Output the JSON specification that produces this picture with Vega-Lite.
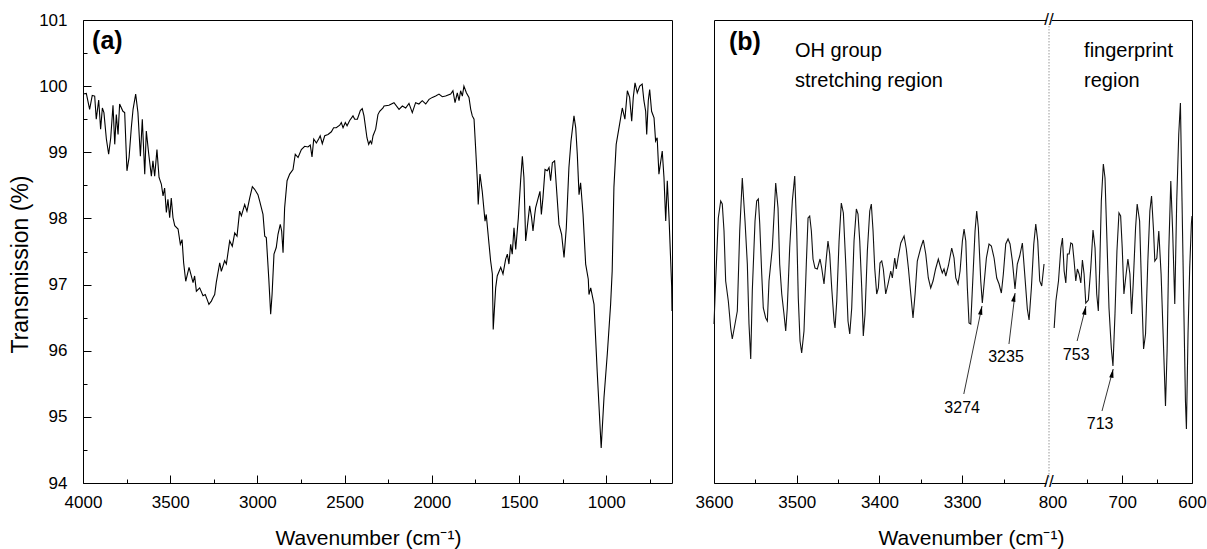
{
  "$schema": "https://vega.github.io/schema/vega-lite/v6.json",
  "autosize": {"type": "pad"},
  "padding": {"left": 8, "top": 10, "right": 5, "bottom": 2},
  "background": "white",
  "spacing": 42,
  "bounds": "flush",
  "config": {
    "font": "Liberation Sans",
    "view": {"stroke": "#000", "strokeWidth": 1},
    "axis": {"labelFont": "Liberation Sans", "titleFont": "Liberation Sans", "labelColor": "#000", "titleColor": "#000", "tickColor": "#000", "domain": false, "grid": false, "labelFontSize": 17, "titleFontSize": 21, "titleFontWeight": "normal", "labelOverlap": false, "labelFlush": false, "format": "d"}
  },
  "datasets": {
    "a": [
      {"w":4000,"t":99.88},{"w":3981,"t":99.89},{"w":3962,"t":99.65},{"w":3947,"t":99.86},{"w":3933,"t":99.85},{"w":3924,"t":99.5},{"w":3910,"t":99.79},{"w":3899,"t":99.35},{"w":3889,"t":99.67},{"w":3880,"t":99.6},{"w":3866,"t":99.2},{"w":3853,"t":98.97},{"w":3841,"t":99.22},{"w":3828,"t":99.71},{"w":3818,"t":99.12},{"w":3809,"t":99.57},{"w":3799,"t":99.27},{"w":3790,"t":99.73},{"w":3771,"t":99.62},{"w":3761,"t":99.6},{"w":3748,"t":98.72},{"w":3736,"t":98.92},{"w":3723,"t":99.37},{"w":3713,"t":99.65},{"w":3698,"t":99.88},{"w":3685,"t":99.6},{"w":3671,"t":98.94},{"w":3660,"t":99.5},{"w":3646,"t":98.67},{"w":3637,"t":99.32},{"w":3623,"t":98.97},{"w":3608,"t":98.64},{"w":3599,"t":98.87},{"w":3589,"t":98.64},{"w":3576,"t":99.04},{"w":3564,"t":98.62},{"w":3551,"t":98.52},{"w":3541,"t":98.34},{"w":3532,"t":98.46},{"w":3522,"t":98.09},{"w":3513,"t":98.29},{"w":3503,"t":98.01},{"w":3494,"t":98.31},{"w":3484,"t":98.01},{"w":3474,"t":97.89},{"w":3455,"t":97.84},{"w":3442,"t":97.61},{"w":3432,"t":97.68},{"w":3423,"t":97.33},{"w":3411,"t":97.05},{"w":3392,"t":97.26},{"w":3379,"t":97.13},{"w":3369,"t":97.03},{"w":3360,"t":97.13},{"w":3350,"t":96.9},{"w":3331,"t":96.95},{"w":3312,"t":96.83},{"w":3299,"t":96.85},{"w":3289,"t":96.78},{"w":3278,"t":96.7},{"w":3264,"t":96.75},{"w":3255,"t":96.8},{"w":3245,"t":96.85},{"w":3236,"t":97.03},{"w":3216,"t":97.33},{"w":3207,"t":97.2},{"w":3188,"t":97.36},{"w":3178,"t":97.31},{"w":3159,"t":97.66},{"w":3144,"t":97.58},{"w":3130,"t":97.78},{"w":3117,"t":97.73},{"w":3102,"t":98.11},{"w":3092,"t":98.04},{"w":3073,"t":98.21},{"w":3060,"t":98.11},{"w":3044,"t":98.31},{"w":3029,"t":98.48},{"w":3016,"t":98.44},{"w":2997,"t":98.36},{"w":2987,"t":98.26},{"w":2968,"t":98.06},{"w":2958,"t":97.73},{"w":2949,"t":97.71},{"w":2935,"t":97.1},{"w":2924,"t":96.55},{"w":2916,"t":96.85},{"w":2905,"t":97.46},{"w":2892,"t":97.56},{"w":2882,"t":97.76},{"w":2869,"t":97.91},{"w":2861,"t":97.81},{"w":2853,"t":97.48},{"w":2844,"t":98.16},{"w":2830,"t":98.57},{"w":2815,"t":98.67},{"w":2796,"t":98.74},{"w":2783,"t":98.97},{"w":2767,"t":98.92},{"w":2748,"t":99.04},{"w":2729,"t":99.09},{"w":2710,"t":99.08},{"w":2697,"t":99.11},{"w":2687,"t":98.93},{"w":2677,"t":99.2},{"w":2662,"t":99.14},{"w":2649,"t":99.2},{"w":2640,"t":99.25},{"w":2628,"t":99.13},{"w":2614,"t":99.25},{"w":2595,"t":99.27},{"w":2576,"t":99.31},{"w":2563,"t":99.37},{"w":2548,"t":99.37},{"w":2528,"t":99.41},{"w":2519,"t":99.45},{"w":2509,"t":99.37},{"w":2496,"t":99.45},{"w":2486,"t":99.4},{"w":2471,"t":99.48},{"w":2452,"t":99.55},{"w":2442,"t":99.5},{"w":2427,"t":99.5},{"w":2410,"t":99.63},{"w":2399,"t":99.66},{"w":2389,"t":99.55},{"w":2372,"t":99.22},{"w":2362,"t":99.12},{"w":2353,"t":99.17},{"w":2345,"t":99.13},{"w":2337,"t":99.25},{"w":2322,"t":99.35},{"w":2309,"t":99.57},{"w":2299,"t":99.62},{"w":2280,"t":99.67},{"w":2274,"t":99.7},{"w":2246,"t":99.71},{"w":2217,"t":99.75},{"w":2188,"t":99.65},{"w":2169,"t":99.7},{"w":2150,"t":99.67},{"w":2131,"t":99.74},{"w":2112,"t":99.6},{"w":2093,"t":99.75},{"w":2074,"t":99.73},{"w":2055,"t":99.78},{"w":2035,"t":99.73},{"w":2016,"t":99.8},{"w":1997,"t":99.83},{"w":1978,"t":99.85},{"w":1959,"t":99.88},{"w":1940,"t":99.84},{"w":1921,"t":99.85},{"w":1892,"t":99.88},{"w":1879,"t":99.93},{"w":1867,"t":99.75},{"w":1854,"t":99.9},{"w":1844,"t":99.78},{"w":1835,"t":99.93},{"w":1825,"t":99.85},{"w":1816,"t":100.0},{"w":1802,"t":99.9},{"w":1787,"t":99.83},{"w":1777,"t":99.65},{"w":1768,"t":99.55},{"w":1758,"t":99.5},{"w":1749,"t":99.07},{"w":1739,"t":98.57},{"w":1734,"t":98.21},{"w":1724,"t":98.67},{"w":1711,"t":98.41},{"w":1695,"t":97.96},{"w":1688,"t":98.06},{"w":1672,"t":97.61},{"w":1663,"t":97.36},{"w":1653,"t":97.16},{"w":1648,"t":96.32},{"w":1634,"t":96.95},{"w":1625,"t":97.13},{"w":1605,"t":97.26},{"w":1592,"t":97.16},{"w":1577,"t":97.38},{"w":1567,"t":97.46},{"w":1558,"t":97.31},{"w":1548,"t":97.61},{"w":1539,"t":97.46},{"w":1529,"t":97.86},{"w":1519,"t":97.53},{"w":1504,"t":98.01},{"w":1491,"t":98.57},{"w":1481,"t":98.94},{"w":1472,"t":98.62},{"w":1462,"t":97.66},{"w":1453,"t":97.86},{"w":1439,"t":98.19},{"w":1428,"t":98.01},{"w":1420,"t":97.81},{"w":1410,"t":98.06},{"w":1405,"t":98.16},{"w":1390,"t":98.31},{"w":1380,"t":98.41},{"w":1372,"t":98.06},{"w":1363,"t":98.31},{"w":1351,"t":98.74},{"w":1338,"t":98.72},{"w":1328,"t":98.77},{"w":1319,"t":98.57},{"w":1309,"t":98.84},{"w":1296,"t":98.87},{"w":1287,"t":98.52},{"w":1271,"t":97.91},{"w":1256,"t":97.76},{"w":1242,"t":97.41},{"w":1229,"t":97.86},{"w":1214,"t":98.77},{"w":1202,"t":99.17},{"w":1185,"t":99.55},{"w":1175,"t":99.37},{"w":1166,"t":98.97},{"w":1156,"t":98.36},{"w":1147,"t":98.54},{"w":1133,"t":98.06},{"w":1118,"t":97.31},{"w":1103,"t":97.08},{"w":1099,"t":96.85},{"w":1089,"t":96.95},{"w":1070,"t":96.7},{"w":1052,"t":95.69},{"w":1029,"t":94.53},{"w":1013,"t":95.29},{"w":994,"t":95.95},{"w":975,"t":96.7},{"w":966,"t":97.2},{"w":956,"t":98.47},{"w":943,"t":99.12},{"w":927,"t":99.37},{"w":908,"t":99.67},{"w":893,"t":99.5},{"w":879,"t":99.93},{"w":866,"t":99.83},{"w":854,"t":99.47},{"w":845,"t":99.83},{"w":835,"t":100.05},{"w":822,"t":99.9},{"w":808,"t":100.0},{"w":794,"t":100.03},{"w":784,"t":99.78},{"w":774,"t":99.62},{"w":768,"t":99.27},{"w":759,"t":99.78},{"w":751,"t":99.95},{"w":740,"t":99.62},{"w":726,"t":99.52},{"w":717,"t":99.17},{"w":708,"t":99.22},{"w":698,"t":98.67},{"w":679,"t":99.02},{"w":669,"t":98.62},{"w":659,"t":97.96},{"w":650,"t":98.57},{"w":640,"t":98.01},{"w":625,"t":96.98},{"w":623,"t":96.6}
    ],
    "b": [
      {"w":3600,"v":-7.3,"s":"OH"},{"w":3598,"v":-3.0,"s":"OH"},{"w":3594.8,"v":3.3,"s":"OH"},{"w":3591.9,"v":5.0,"s":"OH"},{"w":3590,"v":4.7,"s":"OH"},{"w":3587.9,"v":2.0,"s":"OH"},{"w":3585.9,"v":-3.0,"s":"OH"},{"w":3582.7,"v":-5.0,"s":"OH"},{"w":3579.8,"v":-7.7,"s":"OH"},{"w":3577.9,"v":-8.8,"s":"OH"},{"w":3574.6,"v":-7.3,"s":"OH"},{"w":3571.8,"v":-6.0,"s":"OH"},{"w":3568.9,"v":2.0,"s":"OH"},{"w":3565.8,"v":7.3,"s":"OH"},{"w":3562.5,"v":3.0,"s":"OH"},{"w":3559.7,"v":-1.3,"s":"OH"},{"w":3557.7,"v":-7.3,"s":"OH"},{"w":3555.6,"v":-10.8,"s":"OH"},{"w":3553.7,"v":-4.0,"s":"OH"},{"w":3550.4,"v":3.0,"s":"OH"},{"w":3548.4,"v":5.0,"s":"OH"},{"w":3546.4,"v":5.2,"s":"OH"},{"w":3544.7,"v":2.7,"s":"OH"},{"w":3542.3,"v":-2.3,"s":"OH"},{"w":3540.4,"v":-5.7,"s":"OH"},{"w":3537.5,"v":-6.7,"s":"OH"},{"w":3535.5,"v":-7.0,"s":"OH"},{"w":3533.5,"v":-3.0,"s":"OH"},{"w":3529.5,"v":0.3,"s":"OH"},{"w":3525.4,"v":6.8,"s":"OH"},{"w":3522.6,"v":4.3,"s":"OH"},{"w":3520.6,"v":-1.3,"s":"OH"},{"w":3518.1,"v":-4.3,"s":"OH"},{"w":3515.4,"v":-6.3,"s":"OH"},{"w":3513.3,"v":-8.0,"s":"OH"},{"w":3511.4,"v":-5.7,"s":"OH"},{"w":3508.5,"v":0.3,"s":"OH"},{"w":3505.3,"v":5.0,"s":"OH"},{"w":3502.4,"v":7.5,"s":"OH"},{"w":3500,"v":2.0,"s":"OH"},{"w":3498.1,"v":-4.7,"s":"OH"},{"w":3496,"v":-9.0,"s":"OH"},{"w":3494,"v":-10.2,"s":"OH"},{"w":3491.2,"v":-8.0,"s":"OH"},{"w":3488.4,"v":-1.3,"s":"OH"},{"w":3486.3,"v":3.3,"s":"OH"},{"w":3484.3,"v":3.5,"s":"OH"},{"w":3482.3,"v":2.0,"s":"OH"},{"w":3480.3,"v":-0.8,"s":"OH"},{"w":3477.9,"v":-1.7,"s":"OH"},{"w":3475.1,"v":-1.8,"s":"OH"},{"w":3471.8,"v":-0.8,"s":"OH"},{"w":3469.8,"v":-1.7,"s":"OH"},{"w":3467,"v":-3.3,"s":"OH"},{"w":3464.2,"v":-0.7,"s":"OH"},{"w":3462.2,"v":1.0,"s":"OH"},{"w":3460.1,"v":-0.3,"s":"OH"},{"w":3457.7,"v":-3.7,"s":"OH"},{"w":3454.9,"v":-7.0,"s":"OH"},{"w":3453.7,"v":-7.7,"s":"OH"},{"w":3451.6,"v":-5.0,"s":"OH"},{"w":3448.8,"v":1.0,"s":"OH"},{"w":3446.1,"v":4.8,"s":"OH"},{"w":3443.6,"v":3.8,"s":"OH"},{"w":3440.7,"v":-1.3,"s":"OH"},{"w":3438,"v":-7.0,"s":"OH"},{"w":3435.9,"v":-8.3,"s":"OH"},{"w":3433.5,"v":-5.7,"s":"OH"},{"w":3430.7,"v":1.0,"s":"OH"},{"w":3427.9,"v":4.2,"s":"OH"},{"w":3425.9,"v":3.7,"s":"OH"},{"w":3423.8,"v":1.0,"s":"OH"},{"w":3421.4,"v":-3.7,"s":"OH"},{"w":3419.5,"v":-8.5,"s":"OH"},{"w":3417.4,"v":-6.3,"s":"OH"},{"w":3414.6,"v":0.0,"s":"OH"},{"w":3411.7,"v":4.0,"s":"OH"},{"w":3409.8,"v":4.7,"s":"OH"},{"w":3407.7,"v":2.0,"s":"OH"},{"w":3405.7,"v":-1.7,"s":"OH"},{"w":3403.3,"v":-4.3,"s":"OH"},{"w":3401.3,"v":-3.7,"s":"OH"},{"w":3399.3,"v":-1.2,"s":"OH"},{"w":3397.2,"v":-1.0,"s":"OH"},{"w":3395.3,"v":-1.8,"s":"OH"},{"w":3392.4,"v":-4.3,"s":"OH"},{"w":3389.6,"v":-3.3,"s":"OH"},{"w":3386.3,"v":-2.0,"s":"OH"},{"w":3384.4,"v":-2.7,"s":"OH"},{"w":3381.5,"v":-0.7,"s":"OH"},{"w":3379.6,"v":-1.8,"s":"OH"},{"w":3377.5,"v":-0.7,"s":"OH"},{"w":3374.2,"v":0.8,"s":"OH"},{"w":3370.2,"v":1.5,"s":"OH"},{"w":3367.5,"v":0.2,"s":"OH"},{"w":3365,"v":-1.7,"s":"OH"},{"w":3362.1,"v":-4.3,"s":"OH"},{"w":3359.4,"v":-6.7,"s":"OH"},{"w":3356.9,"v":-4.3,"s":"OH"},{"w":3354.2,"v":-1.0,"s":"OH"},{"w":3350.1,"v":0.3,"s":"OH"},{"w":3346.9,"v":1.1,"s":"OH"},{"w":3344,"v":-0.3,"s":"OH"},{"w":3340.9,"v":-2.7,"s":"OH"},{"w":3338,"v":-3.7,"s":"OH"},{"w":3335.2,"v":-3.0,"s":"OH"},{"w":3332.1,"v":-1.8,"s":"OH"},{"w":3328.8,"v":-0.8,"s":"OH"},{"w":3325.9,"v":-1.7,"s":"OH"},{"w":3324,"v":-2.2,"s":"OH"},{"w":3321.9,"v":-1.8,"s":"OH"},{"w":3319.8,"v":-2.5,"s":"OH"},{"w":3316.7,"v":-1.5,"s":"OH"},{"w":3312.6,"v":0.3,"s":"OH"},{"w":3309.8,"v":-0.7,"s":"OH"},{"w":3307.7,"v":-2.7,"s":"OH"},{"w":3305,"v":-3.3,"s":"OH"},{"w":3302.5,"v":-2.0,"s":"OH"},{"w":3299.7,"v":1.0,"s":"OH"},{"w":3297.7,"v":2.2,"s":"OH"},{"w":3295.6,"v":1.0,"s":"OH"},{"w":3293.7,"v":-3.7,"s":"OH"},{"w":3291.7,"v":-7.2,"s":"OH"},{"w":3289.6,"v":-7.3,"s":"OH"},{"w":3286.8,"v":-2.3,"s":"OH"},{"w":3284.4,"v":2.0,"s":"OH"},{"w":3282.4,"v":4.0,"s":"OH"},{"w":3280.4,"v":2.3,"s":"OH"},{"w":3277.5,"v":-3.0,"s":"OH"},{"w":3275.6,"v":-5.2,"s":"OH"},{"w":3273.5,"v":-3.3,"s":"OH"},{"w":3270.7,"v":-0.7,"s":"OH"},{"w":3267.5,"v":0.7,"s":"OH"},{"w":3264.7,"v":0.5,"s":"OH"},{"w":3261.4,"v":-0.7,"s":"OH"},{"w":3258.2,"v":-2.7,"s":"OH"},{"w":3255.4,"v":-3.3,"s":"OH"},{"w":3252.6,"v":-4.2,"s":"OH"},{"w":3250.2,"v":-2.3,"s":"OH"},{"w":3247.3,"v":0.7,"s":"OH"},{"w":3244.5,"v":1.2,"s":"OH"},{"w":3242.1,"v":0.7,"s":"OH"},{"w":3239.3,"v":-1.0,"s":"OH"},{"w":3236.1,"v":-3.8,"s":"OH"},{"w":3233.3,"v":-1.3,"s":"OH"},{"w":3230.4,"v":-0.5,"s":"OH"},{"w":3227.2,"v":0.8,"s":"OH"},{"w":3224,"v":-2.7,"s":"OH"},{"w":3221.2,"v":-5.8,"s":"OH"},{"w":3219.1,"v":-6.9,"s":"OH"},{"w":3216.3,"v":-3.7,"s":"OH"},{"w":3213.4,"v":0.7,"s":"OH"},{"w":3211,"v":2.7,"s":"OH"},{"w":3208.6,"v":1.0,"s":"OH"},{"w":3206.2,"v":-3.0,"s":"OH"},{"w":3203.8,"v":-3.5,"s":"OH"},{"w":3201,"v":-1.3,"s":"OH"},
      {"w":797.6,"v":-7.7,"s":"FP"},{"w":795.1,"v":-5.0,"s":"FP"},{"w":791.4,"v":-3.0,"s":"FP"},{"w":788,"v":0.3,"s":"FP"},{"w":785.7,"v":1.3,"s":"FP"},{"w":783.3,"v":-2.0,"s":"FP"},{"w":780.9,"v":-3.2,"s":"FP"},{"w":778.6,"v":-0.3,"s":"FP"},{"w":776.1,"v":-0.3,"s":"FP"},{"w":773.7,"v":0.8,"s":"FP"},{"w":771.4,"v":0.7,"s":"FP"},{"w":769,"v":-1.0,"s":"FP"},{"w":766.6,"v":-3.0,"s":"FP"},{"w":764.3,"v":-1.8,"s":"FP"},{"w":761.9,"v":-2.3,"s":"FP"},{"w":759.4,"v":-3.2,"s":"FP"},{"w":757.1,"v":-0.9,"s":"FP"},{"w":754.7,"v":-2.3,"s":"FP"},{"w":752.3,"v":-5.2,"s":"FP"},{"w":748.6,"v":-4.9,"s":"FP"},{"w":745.1,"v":-1.7,"s":"FP"},{"w":741.9,"v":2.1,"s":"FP"},{"w":739,"v":0.3,"s":"FP"},{"w":736.6,"v":-4.3,"s":"FP"},{"w":734.3,"v":-6.0,"s":"FP"},{"w":732.3,"v":-1.7,"s":"FP"},{"w":730,"v":5.0,"s":"FP"},{"w":727.1,"v":8.7,"s":"FP"},{"w":724.7,"v":7.3,"s":"FP"},{"w":721.9,"v":1.0,"s":"FP"},{"w":719,"v":-5.7,"s":"FP"},{"w":715.7,"v":-9.7,"s":"FP"},{"w":713.3,"v":-11.5,"s":"FP"},{"w":710.4,"v":-6.3,"s":"FP"},{"w":707.6,"v":0.0,"s":"FP"},{"w":704.7,"v":3.8,"s":"FP"},{"w":702.3,"v":3.5,"s":"FP"},{"w":700,"v":0.3,"s":"FP"},{"w":697.6,"v":-4.3,"s":"FP"},{"w":695.1,"v":-2.7,"s":"FP"},{"w":691.9,"v":-0.8,"s":"FP"},{"w":689,"v":-2.3,"s":"FP"},{"w":686.6,"v":-6.3,"s":"FP"},{"w":684.3,"v":-3.3,"s":"FP"},{"w":680.9,"v":2.3,"s":"FP"},{"w":678.6,"v":4.7,"s":"FP"},{"w":675.1,"v":3.0,"s":"FP"},{"w":672.3,"v":-3.7,"s":"FP"},{"w":669.4,"v":-9.8,"s":"FP"},{"w":666.6,"v":-8.3,"s":"FP"},{"w":663.3,"v":-1.0,"s":"FP"},{"w":660.4,"v":4.0,"s":"FP"},{"w":658,"v":5.5,"s":"FP"},{"w":655.1,"v":2.0,"s":"FP"},{"w":653.3,"v":-1.0,"s":"FP"},{"w":650.4,"v":-0.7,"s":"FP"},{"w":647.6,"v":2.0,"s":"FP"},{"w":644.3,"v":-2.3,"s":"FP"},{"w":641.4,"v":-8.3,"s":"FP"},{"w":638,"v":-15.5,"s":"FP"},{"w":635.7,"v":-10.0,"s":"FP"},{"w":633.3,"v":0.0,"s":"FP"},{"w":630.4,"v":7.0,"s":"FP"},{"w":627.6,"v":1.7,"s":"FP"},{"w":624.7,"v":-5.3,"s":"FP"},{"w":621.9,"v":5.0,"s":"FP"},{"w":619,"v":11.7,"s":"FP"},{"w":616.6,"v":14.8,"s":"FP"},{"w":614.3,"v":5.0,"s":"FP"},{"w":611.9,"v":-5.0,"s":"FP"},{"w":609.4,"v":-15.0,"s":"FP"},{"w":608,"v":-17.8,"s":"FP"},{"w":605.7,"v":-8.3,"s":"FP"},{"w":603.3,"v":-1.7,"s":"FP"},{"w":600.9,"v":2.7,"s":"FP"},{"w":600,"v":3.5,"s":"FP"}
    ],
    "notes": [
      {"t":"OH group","w":3502,"v":19.4},
      {"t":"stretching region","w":3502,"v":16.4},
      {"t":"fingerprint","w":754.7,"v":19.4},
      {"t":"region","w":754.7,"v":16.4}
    ],
    "peaks": [
      {"lab":"3274","xh":3276,"vh":-5.5,"xt":3298,"vt":-14.3,"xl":3300,"vl":-15.7},
      {"lab":"3235","xh":3236,"vh":-4.2,"xt":3243.4,"vt":-9.3,"xl":3247,"vl":-10.6},
      {"lab":"753","xh":752,"vh":-5.5,"xt":764.7,"vt":-9.0,"xl":766,"vl":-10.4},
      {"lab":"713","xh":713,"vh":-11.8,"xt":729,"vt":-16.0,"xl":731.7,"vl":-17.3}
    ]
  },
  "hconcat": [
    {
      "width": 589,
      "height": 463,
      "resolve": {"axis": {"x": "independent", "y": "independent"}},
      "layer": [
        {
          "data": {"name": "a"},
          "mark": {"type": "line", "color": "#000", "strokeWidth": 1.1, "clip": true},
          "encoding": {
            "x": {"field": "w", "type": "quantitative", "scale": {"domain": [4000, 623], "nice": false, "zero": false},
              "axis": {"orient": "bottom", "values": [4000,3500,3000,2500,2000,1500,1000], "ticks": false,
                "labelPadding": 11, "title": "Wavenumber (cm⁻¹)", "titleX": 285, "titleY": 61, "titleBaseline": "alphabetic"}},
            "y": {"field": "t", "type": "quantitative", "scale": {"domain": [94, 101], "nice": false, "zero": false},
              "axis": {"orient": "left", "values": [94,95,96,97,98,99,100,101], "ticks": false,
                "labelPadding": 16, "title": "Transmission (%)", "titleFontSize": 23, "titleX": -56, "titleY": 244, "titleBaseline": "alphabetic"}}
          }
        },
        {
          "data": {"values": [{}]},
          "mark": {"type": "text", "text": "(a)", "fontSize": 25, "fontWeight": "bold", "align": "left", "baseline": "alphabetic", "color": "#000"},
          "encoding": {
            "x": {"datum": 3948, "type": "quantitative", "axis": {"orient": "bottom", "values": [4000,3500,3000,2500,2000,1500,1000], "tickSize": -8, "labels": false, "title": null}},
            "y": {"datum": 100.56, "type": "quantitative", "axis": {"orient": "left", "values": [94,95,96,97,98,99,100,101], "tickSize": -8, "labels": false, "title": null}}
          }
        },
        {
          "data": {"values": [{}]},
          "mark": {"type": "text", "text": " ", "fontSize": 1},
          "encoding": {
            "x": {"datum": 3948, "type": "quantitative", "axis": {"orient": "bottom", "values": [3750,3250,2750,2250,1750,1250,750], "tickSize": -4, "labels": false, "title": null}},
            "y": {"datum": 100.56, "type": "quantitative", "axis": {"orient": "left", "values": [94.5,95.5,96.5,97.5,98.5,99.5,100.5], "tickSize": -4, "labels": false, "title": null}}
          }
        }
      ]
    },
    {
      "width": 478,
      "height": 463,
      "resolve": {"axis": {"x": "independent"}},
      "layer": [
        {
          "data": {"name": "b"},
          "mark": {"type": "line", "color": "#111", "strokeWidth": 1.1},
          "encoding": {
            "x": {"field": "w", "type": "quantitative", "scale": {"domain": [3600, 3195, 805, 600], "range": [0, 335, 335, 478], "nice": false, "zero": false},
              "axis": {"orient": "bottom", "values": [3600,3500,3400,3300,800,700,600], "ticks": false,
                "labelPadding": 11, "title": "Wavenumber (cm⁻¹)", "titleX": 257, "titleY": 61, "titleBaseline": "alphabetic"}},
            "y": {"field": "v", "type": "quantitative", "scale": {"domain": [-23.2, 23.1], "nice": false, "zero": false}, "axis": null},
            "detail": {"field": "s"}
          }
        },
        {
          "data": {"values": [{}]},
          "mark": {"type": "rule", "color": "#999", "strokeDash": [1.5, 1.5], "strokeWidth": 1},
          "encoding": {"x": {"datum": 805, "type": "quantitative", "axis": {"orient": "bottom", "values": [3600,3500,3400,3300,700,600], "tickSize": -8, "labels": false, "title": null}}}
        },
        {
          "data": {"values": [{}]},
          "mark": {"type": "rect", "color": "white"},
          "encoding": {"x": {"datum": 3198, "type": "quantitative", "axis": {"orient": "bottom", "values": [3550,3450,3350,3250,750,650], "tickSize": -4, "labels": false, "title": null}}, "x2": {"datum": 801}, "y": {"datum": 23.5, "type": "quantitative", "axis": null}, "y2": {"datum": 22.7}}
        },
        {
          "data": {"values": [{}]},
          "mark": {"type": "rect", "color": "white"},
          "encoding": {"x": {"datum": 3198, "type": "quantitative", "axis": null}, "x2": {"datum": 801}, "y": {"datum": -22.8, "type": "quantitative", "axis": null}, "y2": {"datum": -23.6}}
        },
        {
          "data": {"values": [{}]},
          "mark": {"type": "text", "text": "//", "fontSize": 17, "align": "center", "baseline": "middle", "color": "#000"},
          "encoding": {"x": {"datum": 805, "type": "quantitative", "axis": null}, "y": {"datum": 23.1, "type": "quantitative", "axis": null}}
        },
        {
          "data": {"values": [{}]},
          "mark": {"type": "text", "text": "//", "fontSize": 17, "align": "center", "baseline": "middle", "dy": -1, "color": "#000"},
          "encoding": {"x": {"datum": 805, "type": "quantitative", "axis": null}, "y": {"datum": -23.2, "type": "quantitative", "axis": null}}
        },
        {
          "data": {"name": "notes"},
          "mark": {"type": "text", "fontSize": 20, "align": "left", "baseline": "alphabetic", "color": "#000"},
          "encoding": {"x": {"field": "w", "type": "quantitative", "axis": null}, "y": {"field": "v", "type": "quantitative", "axis": null}, "text": {"field": "t"}}
        },
        {
          "data": {"name": "peaks"},
          "mark": {"type": "rule", "color": "#000", "strokeWidth": 0.8},
          "encoding": {"x": {"field": "xt", "type": "quantitative", "axis": null}, "y": {"field": "vt", "type": "quantitative", "axis": null}, "x2": {"field": "xh"}, "y2": {"field": "vh"}}
        },
        {
          "data": {"name": "peaks"},
          "mark": {"type": "point", "shape": "M0,0L-0.55,2.2L0.55,2.2Z", "filled": true, "size": 64, "angle": 12, "color": "#000", "opacity": 1},
          "encoding": {"x": {"field": "xh", "type": "quantitative", "axis": null}, "y": {"field": "vh", "type": "quantitative", "axis": null}}
        },
        {
          "data": {"name": "peaks"},
          "mark": {"type": "text", "fontSize": 16, "align": "center", "baseline": "middle", "color": "#000"},
          "encoding": {"x": {"field": "xl", "type": "quantitative", "axis": null}, "y": {"field": "vl", "type": "quantitative", "axis": null}, "text": {"field": "lab"}}
        },
        {
          "data": {"values": [{}]},
          "mark": {"type": "text", "text": "(b)", "fontSize": 25, "fontWeight": "bold", "align": "left", "baseline": "alphabetic", "color": "#000"},
          "encoding": {"x": {"datum": 3582, "type": "quantitative", "axis": null}, "y": {"datum": 20.1, "type": "quantitative", "axis": null}}
        }
      ]
    }
  ]
}
